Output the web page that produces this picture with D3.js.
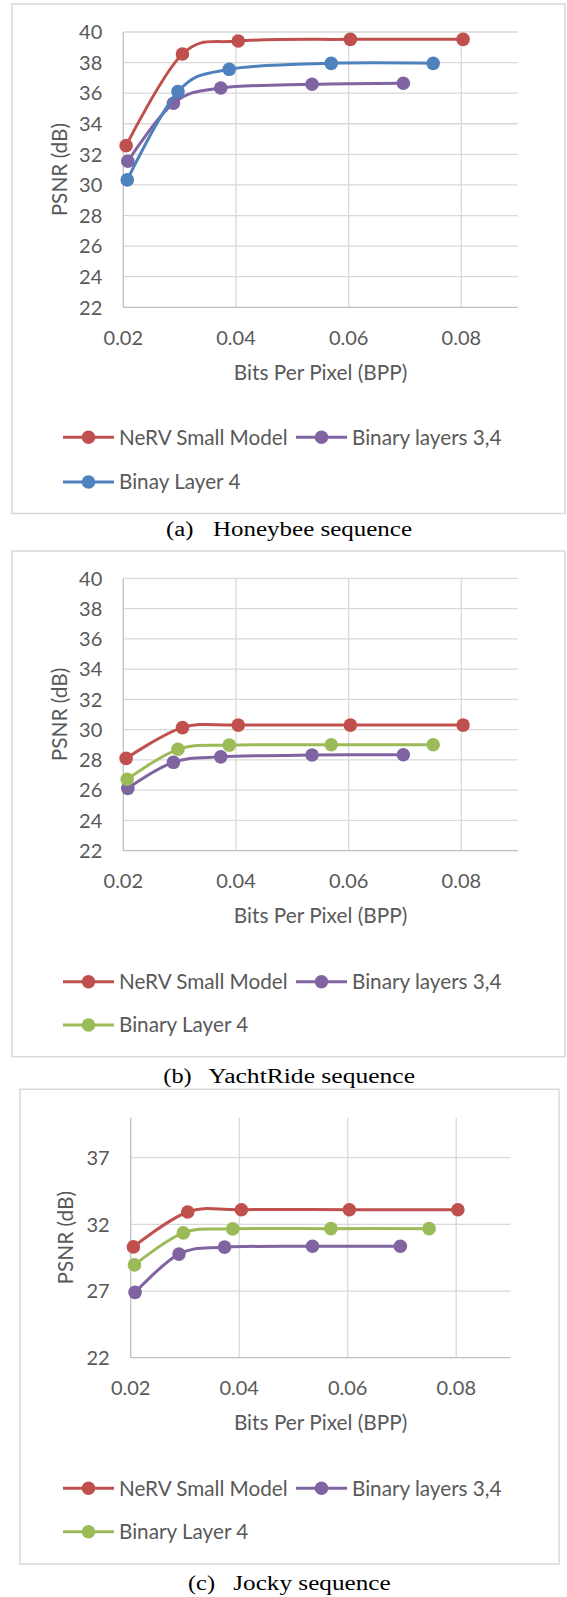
<!DOCTYPE html>
<html>
<head>
<meta charset="utf-8">
<script src="https://cdn.jsdelivr.net/npm/d3@7"></script>
<style>
  html, body { margin: 0; padding: 0; background: #fff; }
  svg { display: block; }
  .tick-label { font-family: Lato, "Open Sans", sans-serif; font-size: 20px; fill: #595959; }
  .axis-title { font-family: Lato, "Open Sans", sans-serif; font-size: 20.8px; fill: #595959; }
  .legend-label { font-family: Lato, "Open Sans", sans-serif; font-size: 20.7px; fill: #595959; }
  .caption { font-family: "Liberation Serif", "Times New Roman", serif; font-size: 20px; fill: #000; }
</style>
</head>
<body>
<svg id="chart" width="567" height="1597"></svg>
<script>
// BPP of each model (same encodings in every sequence)
const bppNerv = [0.0205, 0.0305, 0.0404, 0.0603, 0.0803];
const bppBin34 = [0.0208, 0.0289, 0.0373, 0.0535, 0.0697];
const bppBin4 = [0.0207, 0.0297, 0.0388, 0.0569, 0.0750];

// PSNR (dB)
const honeybeeNerv = [32.57, 38.56, 39.41, 39.52, 39.52];
const honeybeeBin34 = [31.55, 35.34, 36.34, 36.58, 36.65];
const honeybeeBin4 = [30.33, 36.10, 37.56, 37.95, 37.95];

const yachtNerv = [28.10, 30.13, 30.30, 30.30, 30.30];
const yachtBin34 = [26.12, 27.84, 28.20, 28.32, 28.34];
const yachtBin4 = [26.72, 28.70, 28.98, 29.00, 29.00];

const jockyNerv = [30.31, 32.93, 33.10, 33.10, 33.10];
const jockyBin34 = [26.90, 29.77, 30.29, 30.36, 30.36];
const jockyBin4 = [28.96, 31.36, 31.66, 31.68, 31.68];

const xTicks = [0.02, 0.04, 0.06, 0.08];
const yTicksFine = [22, 24, 26, 28, 30, 32, 34, 36, 38, 40];
const yTicksCoarse = [22, 27, 32, 37];

const RED = "#C0504D";
const PURPLE = "#8064A2";
const BLUE = "#4F81BD";
const GREEN = "#9BBB59";

const svg = d3.select("#chart");

function drawPanel(p) {
  const g = svg.append("g");

  // outer frame
  g.append("rect")
    .attr("x", p.box[0]).attr("y", p.box[1])
    .attr("width", p.box[2]).attr("height", p.box[3])
    .attr("fill", "#fff").attr("stroke", "#d9d9d9").attr("stroke-width", 1.5);

  const x = d3.scaleLinear().domain([0.02, 0.09]).range([p.left, p.right]);
  const y = d3.scaleLinear().domain([22, 40]).range([p.bottom, p.top]);

  // gridlines
  g.append("g").selectAll("line.hgrid")
    .data(p.yTicks.filter((t) => t !== 22))
    .join("line")
    .attr("x1", p.left).attr("x2", p.right)
    .attr("y1", (d) => y(d)).attr("y2", (d) => y(d))
    .attr("stroke", "#d9d9d9").attr("stroke-width", 1.3);
  g.append("g").selectAll("line.vgrid")
    .data(xTicks.slice(1))
    .join("line")
    .attr("x1", (d) => x(d)).attr("x2", (d) => x(d))
    .attr("y1", p.top).attr("y2", p.bottom)
    .attr("stroke", "#d9d9d9").attr("stroke-width", 1.3);

  // axis lines
  g.append("line")
    .attr("x1", p.left).attr("x2", p.right)
    .attr("y1", p.bottom).attr("y2", p.bottom)
    .attr("stroke", "#bfbfbf").attr("stroke-width", 1.3);
  g.append("line")
    .attr("x1", p.left).attr("x2", p.left)
    .attr("y1", p.top).attr("y2", p.bottom)
    .attr("stroke", "#bfbfbf").attr("stroke-width", 1.3);

  // tick labels
  g.append("g").selectAll("text")
    .data(p.yTicks)
    .join("text")
    .attr("class", "tick-label")
    .attr("x", p.left - 21)
    .attr("y", (d) => y(d))
    .attr("dy", "0.36em")
    .attr("text-anchor", "end")
    .text((d) => d);
  g.append("g").selectAll("text")
    .data(xTicks)
    .join("text")
    .attr("class", "tick-label")
    .attr("x", (d) => x(d))
    .attr("y", p.bottom + 30)
    .attr("dy", "0.36em")
    .attr("text-anchor", "middle")
    .text((d) => d.toFixed(2));

  // axis titles
  g.append("text")
    .attr("class", "axis-title")
    .attr("x", (p.left + p.right) / 2)
    .attr("y", p.bottom + 65)
    .attr("dy", "0.36em")
    .attr("text-anchor", "middle")
    .text("Bits Per Pixel (BPP)");
  g.append("text")
    .attr("class", "axis-title")
    .attr("transform", `translate(${p.yTitleX},${(p.top + p.bottom) / 2}) rotate(-90)`)
    .attr("dy", "0.36em")
    .attr("text-anchor", "middle")
    .text("PSNR (dB)");

  // smoothed series (Excel-style)
  const line = d3.line()
    .x((d) => x(d[0]))
    .y((d) => y(d[1]))
    .curve(d3.curveCardinal.tension(0));

  p.series.forEach((s) => {
    const pts = s.bpp.map((b, i) => [b, s.psnr[i]]);
    const sg = g.append("g");
    sg.append("path")
      .attr("d", line(pts))
      .attr("fill", "none")
      .attr("stroke", s.color)
      .attr("stroke-width", 3)
      .attr("stroke-linejoin", "round");
    sg.selectAll("circle")
      .data(pts)
      .join("circle")
      .attr("cx", (d) => x(d[0]))
      .attr("cy", (d) => y(d[1]))
      .attr("r", 6.8)
      .attr("fill", s.color);
  });

  // legend: two items on the first row, one on the second
  const slots = [
    [63, p.legendY[0]],
    [296, p.legendY[0]],
    [63, p.legendY[1]],
  ];
  p.series.forEach((s, i) => {
    const [lx, ly] = slots[i];
    const lg = g.append("g");
    lg.append("line")
      .attr("x1", lx).attr("x2", lx + 51)
      .attr("y1", ly).attr("y2", ly)
      .attr("stroke", s.color).attr("stroke-width", 3);
    lg.append("circle")
      .attr("cx", lx + 25.5).attr("cy", ly).attr("r", 6.8)
      .attr("fill", s.color);
    lg.append("text")
      .attr("class", "legend-label")
      .attr("x", lx + 56)
      .attr("y", ly)
      .attr("dy", "0.36em")
      .text(s.name);
  });

  // caption below the frame
  const c = p.caption;
  svg.append("text")
    .attr("class", "caption")
    .attr("x", c.x0).attr("y", c.base)
    .attr("textLength", c.labelW).attr("lengthAdjust", "spacingAndGlyphs")
    .text(c.label);
  svg.append("text")
    .attr("class", "caption")
    .attr("x", c.x1).attr("y", c.base)
    .attr("textLength", c.textW).attr("lengthAdjust", "spacingAndGlyphs")
    .text(c.text);
}

drawPanel({
  box: [12, 4, 553, 509.5],
  left: 123.3, right: 517.7, top: 32, bottom: 307.3,
  yTicks: yTicksFine, yTitleX: 59,
  legendY: [437.3, 482],
  series: [
    { name: "NeRV Small Model", color: RED, bpp: bppNerv, psnr: honeybeeNerv },
    { name: "Binary layers 3,4", color: PURPLE, bpp: bppBin34, psnr: honeybeeBin34 },
    { name: "Binay Layer 4", color: BLUE, bpp: bppBin4, psnr: honeybeeBin4 },
  ],
  caption: { label: "(a)", text: "Honeybee sequence", x0: 166, x1: 213, labelW: 27.5, textW: 199, base: 535.5 },
});

drawPanel({
  box: [12, 551, 553, 505.7],
  left: 123.3, right: 517.7, top: 578.3, bottom: 850.7,
  yTicks: yTicksFine, yTitleX: 59,
  legendY: [981.7, 1025],
  series: [
    { name: "NeRV Small Model", color: RED, bpp: bppNerv, psnr: yachtNerv },
    { name: "Binary layers 3,4", color: PURPLE, bpp: bppBin34, psnr: yachtBin34 },
    { name: "Binary Layer 4", color: GREEN, bpp: bppBin4, psnr: yachtBin4 },
  ],
  caption: { label: "(b)", text: "YachtRide sequence", x0: 163.3, x1: 208.3, labelW: 28.4, textW: 206.7, base: 1082.5 },
});

drawPanel({
  box: [20, 1089.3, 539, 474.7],
  left: 130.7, right: 510.5, top: 1117.7, bottom: 1357.7,
  yTicks: yTicksCoarse, yTitleX: 65,
  legendY: [1488.3, 1531.7],
  series: [
    { name: "NeRV Small Model", color: RED, bpp: bppNerv, psnr: jockyNerv },
    { name: "Binary layers 3,4", color: PURPLE, bpp: bppBin34, psnr: jockyBin34 },
    { name: "Binary Layer 4", color: GREEN, bpp: bppBin4, psnr: jockyBin4 },
  ],
  caption: { label: "(c)", text: "Jocky sequence", x0: 188, x1: 233.3, labelW: 27, textW: 157.3, base: 1590 },
});
</script>
</body>
</html>
